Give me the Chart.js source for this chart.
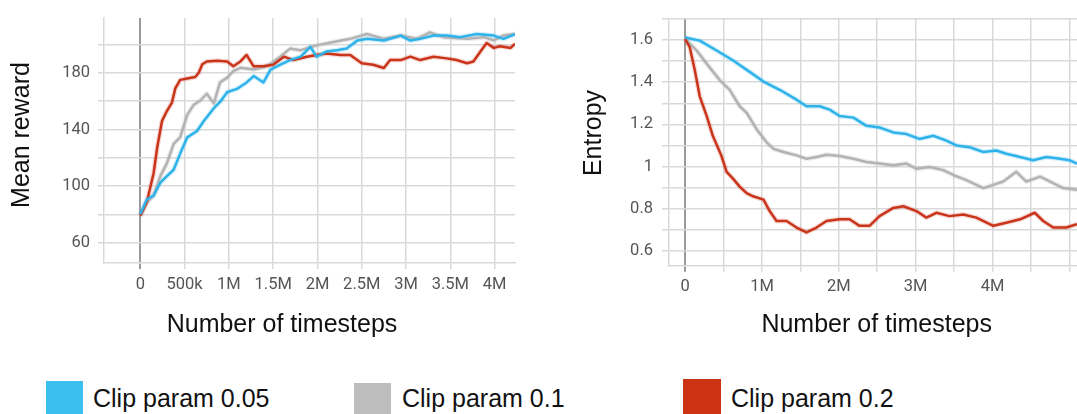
<!DOCTYPE html>
<html>
<head>
<meta charset="utf-8">
<title>Clip param comparison</title>
<script src="https://cdn.jsdelivr.net/npm/chart.js@4"></script>
<style>
    html, body { margin: 0; padding: 0; background: #fff; }
    body { width: 1077px; height: 414px; position: relative; overflow: hidden; }
    .plot { position: absolute; top: 0; height: 345px; }
    #reward_wrap { left: 0; width: 520px; }
    #entropy_wrap { left: 560px; width: 517px; }
    .swatch { position: absolute; width: 37px; height: 40px; }
    .key { position: absolute; top: 386px; font: 25px "Liberation Sans", Arial, sans-serif; line-height: 25px; color: #111; white-space: nowrap; }
</style>
</head>
<body>
<div class="plot" id="reward_wrap"><canvas id="reward_chart"></canvas></div>
<div class="plot" id="entropy_wrap"><canvas id="entropy_chart"></canvas></div>

<div class="swatch" style="left:46px; top:381px; background:#3bbfee;"></div>
<div class="key" style="left:93px;">Clip param 0.05</div>
<div class="swatch" style="left:354px; top:383px; background:#bdbdbd;"></div>
<div class="key" style="left:402px;">Clip param 0.1</div>
<div class="swatch" style="left:683px; top:379px; width:38px; background:#cc3312;"></div>
<div class="key" style="left:731px;">Clip param 0.2</div>

<script>
// x values are in millions of timesteps
const rewardSteps005 = [0, 0.075, 0.15, 0.226, 0.3, 0.376, 0.45, 0.53, 0.64, 0.715, 0.83, 0.9, 0.98, 1.09, 1.2, 1.28, 1.39, 1.47, 1.58, 1.69, 1.81, 1.92, 1.99, 2.1, 2.22, 2.33, 2.45, 2.56, 2.75, 2.94, 3.05, 3.16, 3.31, 3.46, 3.61, 3.8, 3.99, 4.1, 4.23];
const reward005 = [80, 90.6, 93.3, 102.4, 107, 111.5, 122.9, 134.4, 138.9, 145.8, 155, 159.4, 166.3, 168.6, 173.2, 177.7, 173.2, 182.3, 185.7, 189, 191.4, 198.3, 191.4, 195, 196, 197.1, 202.8, 204, 202.8, 206.3, 202.8, 204, 206.3, 206.3, 205.2, 207.4, 206.3, 204, 207.4];

const rewardSteps01 = [0, 0.075, 0.15, 0.226, 0.3, 0.376, 0.45, 0.53, 0.6, 0.68, 0.75, 0.83, 0.9, 0.98, 1.05, 1.13, 1.28, 1.43, 1.58, 1.69, 1.81, 1.99, 2.18, 2.37, 2.56, 2.75, 2.94, 3.12, 3.27, 3.42, 3.69, 3.88, 3.99, 4.1, 4.23];
const reward01 = [79, 88.7, 93.3, 107, 116, 129.8, 134.4, 150.3, 157.2, 160.6, 165.2, 158.4, 173.2, 176.6, 181.2, 183.5, 182.3, 184.6, 191.4, 197.1, 196, 199.4, 201.7, 204, 207.4, 204, 206.3, 204, 208.6, 205.2, 204, 205.2, 203, 206.3, 207.4];

const rewardSteps02 = [0, 0.075, 0.15, 0.19, 0.245, 0.3, 0.357, 0.395, 0.45, 0.53, 0.62, 0.66, 0.7, 0.75, 0.87, 0.98, 1.05, 1.13, 1.2, 1.28, 1.39, 1.5, 1.62, 1.73, 1.88, 1.99, 2.1, 2.26, 2.37, 2.5, 2.63, 2.75, 2.82, 2.94, 3.05, 3.16, 3.31, 3.46, 3.57, 3.69, 3.76, 3.84, 3.91, 3.99, 4.06, 4.18, 4.23];
const reward02 = [79, 89, 109, 127, 146, 153, 159, 169, 175, 176, 177, 180, 186, 188, 188.5, 188, 184.6, 188, 192.6, 184.6, 184.6, 185.7, 191.4, 189, 191.4, 192.6, 193.7, 192.6, 192.6, 186.8, 185.7, 183.4, 189, 189, 191.4, 189, 191.4, 190.2, 189, 186.8, 188, 195, 201, 197.6, 198.8, 197.6, 200.5];

const entropySteps005 = [0, 0.19, 0.41, 0.62, 0.84, 1.02, 1.23, 1.45, 1.58, 1.75, 1.88, 2.01, 2.19, 2.36, 2.53, 2.71, 2.88, 3.05, 3.23, 3.4, 3.53, 3.7, 3.88, 4.05, 4.18, 4.36, 4.53, 4.7, 4.88, 5.0, 5.1];
const entropy005 = [1.612, 1.597, 1.55, 1.504, 1.449, 1.403, 1.364, 1.317, 1.286, 1.286, 1.27, 1.24, 1.232, 1.193, 1.185, 1.162, 1.154, 1.131, 1.146, 1.123, 1.1, 1.092, 1.069, 1.076, 1.061, 1.045, 1.03, 1.045, 1.037, 1.03, 1.014];

const entropySteps01 = [0, 0.15, 0.28, 0.45, 0.58, 0.71, 0.8, 0.93, 1.06, 1.15, 1.28, 1.45, 1.58, 1.71, 1.84, 2.01, 2.19, 2.36, 2.53, 2.71, 2.88, 3.01, 3.18, 3.36, 3.49, 3.66, 3.88, 4.01, 4.14, 4.31, 4.44, 4.62, 4.75, 4.92, 5.1];
const entropy01 = [1.605, 1.55, 1.488, 1.41, 1.364, 1.286, 1.255, 1.177, 1.115, 1.084, 1.069, 1.053, 1.037, 1.045, 1.056, 1.05, 1.037, 1.022, 1.014, 1.006, 1.014, 0.99, 0.998, 0.983, 0.96, 0.936, 0.898, 0.913, 0.929, 0.975, 0.929, 0.952, 0.929, 0.898, 0.89];

const entropySteps02 = [0, 0.06, 0.126, 0.19, 0.28, 0.36, 0.47, 0.54, 0.62, 0.71, 0.8, 0.885, 1.02, 1.1, 1.19, 1.32, 1.45, 1.58, 1.71, 1.84, 2.01, 2.14, 2.27, 2.4, 2.53, 2.71, 2.84, 3.01, 3.14, 3.27, 3.44, 3.62, 3.79, 4.01, 4.18, 4.36, 4.55, 4.66, 4.79, 4.96, 5.1];
const entropy02 = [1.605, 1.566, 1.457, 1.333, 1.24, 1.146, 1.053, 0.975, 0.944, 0.905, 0.874, 0.859, 0.843, 0.789, 0.742, 0.742, 0.711, 0.688, 0.711, 0.742, 0.75, 0.75, 0.719, 0.719, 0.765, 0.804, 0.812, 0.789, 0.758, 0.781, 0.765, 0.773, 0.758, 0.719, 0.734, 0.75, 0.781, 0.742, 0.711, 0.711, 0.727];

// grid / tick positions
const rewardTicksX = [0, 0.5, 1, 1.5, 2, 2.5, 3, 3.5, 4];
const rewardTicksY = [60, 80, 100, 120, 140, 160, 180, 200];
const entropyTicksX = [0, 0.5, 1, 1.5, 2, 2.5, 3, 3.5, 4, 4.5, 5];
const entropyTicksY = [0.6, 0.7, 0.8, 0.9, 1, 1.1, 1.2, 1.3, 1.4, 1.5, 1.6, 1.7];

const clipLabels = ["Clip param 0.05", "Clip param 0.1", "Clip param 0.2"];
const lineColors = ["#2db3ea", "#b3b3b3", "#c9341a"];
const haloColors = ["rgba(45,179,234,0.2)", "rgba(179,179,179,0.25)", "rgba(201,52,26,0.18)"];
const lineOrder = [0, 2, 1];

const GRID = "#d9d9d9";
const ZERO = "#9a9a9a";
const TICK_FONT = { family: "Roboto", size: 16.5 };

Chart.defaults.font.family = "Roboto";
Chart.defaults.animation = false;

// axis titles are placed by hand so they sit where the original has them
const axisTitles = {
    id: "axisTitles",
    afterDraw(chart, args, opts) {
        const ctx = chart.ctx;
        ctx.save();
        ctx.fillStyle = "#111";
        ctx.font = '25px "Liberation Sans", Arial, sans-serif';
        ctx.textBaseline = "alphabetic";
        ctx.textAlign = "center";
        ctx.fillText(opts.xText, opts.xCenter, opts.xBaseline);
        ctx.translate(opts.yBaseline, opts.yCenter);
        ctx.rotate(-Math.PI / 2);
        ctx.fillText(opts.yText, 0, 0);
        ctx.restore();
    }
};

function pts(xs, ys) {
    return xs.map((x, i) => ({ x, y: ys[i] }));
}

function buildDatasets(series) {
    const sets = [];
    series.forEach(([xs, ys], i) => {
        sets.push({
            label: clipLabels[i],
            data: pts(xs, ys),
            borderColor: lineColors[i],
            borderWidth: 2.5,
            pointRadius: 0,
            tension: 0,
            borderJoinStyle: "round",
            order: lineOrder[i]
        });
        sets.push({
            label: clipLabels[i] + " raw",
            data: pts(xs, ys),
            borderColor: haloColors[i],
            borderWidth: 5,
            pointRadius: 0,
            tension: 0,
            borderJoinStyle: "round",
            order: 10 + lineOrder[i]
        });
    });
    return sets;
}

function isZero(c) {
    return c.tick && Math.abs(c.tick.value) < 1e-9;
}

function makeChart(id, cfg) {
    return new Chart(document.getElementById(id), {
        type: "line",
        data: { datasets: buildDatasets(cfg.series) },
        options: {
            responsive: true,
            maintainAspectRatio: false,
            layout: { padding: cfg.padding },
            plugins: {
                legend: { display: false },
                tooltip: { enabled: false },
                axisTitles: cfg.titles
            },
            scales: {
                x: {
                    type: "linear",
                    min: cfg.xMin,
                    max: cfg.xMax,
                    afterBuildTicks: (s) => { s.ticks = cfg.xTicks.map((v) => ({ value: v })); },
                    afterFit: (s) => { s.height = cfg.xHeight; },
                    grid: {
                        color: (c) => isZero(c) ? ZERO : GRID,
                        lineWidth: (c) => isZero(c) ? 2 : 1.5,
                        tickLength: 6
                    },
                    border: { display: true, color: GRID, width: 1.5 },
                    ticks: {
                        autoSkip: false,
                        maxRotation: 0,
                        padding: cfg.xPad,
                        color: "#555",
                        font: TICK_FONT,
                        callback: cfg.xLabel
                    }
                },
                y: {
                    min: cfg.yMin,
                    max: cfg.yMax,
                    afterBuildTicks: (s) => { s.ticks = cfg.yTicks.map((v) => ({ value: v })); },
                    afterFit: (s) => { s.width = cfg.yWidth; },
                    grid: { color: GRID, lineWidth: 1.5, tickLength: cfg.yTick },
                    border: { display: true, color: GRID, width: 1.5 },
                    ticks: {
                        autoSkip: false,
                        padding: cfg.yPad,
                        color: "#555",
                        font: TICK_FONT,
                        callback: cfg.yLabel
                    }
                }
            }
        },
        plugins: [axisTitles]
    });
}

makeChart("reward_chart", {
    series: [[rewardSteps005, reward005], [rewardSteps01, reward01], [rewardSteps02, reward02]],
    padding: { top: 10, right: 5, left: 0, bottom: 0 },
    xMin: -0.41, xMax: 4.23, xTicks: rewardTicksX, xHeight: 82, xPad: 6,
    xLabel: (v) => {
        if (Math.abs(v) < 1e-9) return "0";
        return v < 1 ? Math.round(v * 1000) + "k" : v + "M";
    },
    yMin: 45.6, yMax: 218.8, yTicks: rewardTicksY, yWidth: 104, yTick: 6, yPad: 8,
    yLabel: (v) => (Math.round(v - 20) % 40 === 0 && v <= 180) ? String(v) : "",
    titles: { xText: "Number of timesteps", xCenter: 282, xBaseline: 332, yText: "Mean reward", yBaseline: 28.5, yCenter: 135 }
});

makeChart("entropy_chart", {
    series: [[entropySteps005, entropy005], [entropySteps01, entropy01], [entropySteps02, entropy02]],
    padding: { top: 14.5, right: 0, left: 0, bottom: 0 },
    xMin: -0.21, xMax: 5.1, xTicks: entropyTicksX, xHeight: 79.3, xPad: 5,
    xLabel: (v) => {
        if (Math.abs(v - Math.round(v)) > 1e-9 || v > 4.5) return "";
        return v === 0 ? "0" : v + "M";
    },
    yMin: 0.53, yMax: 1.7, yTicks: entropyTicksY, yWidth: 109, yTick: 7, yPad: 9,
    yLabel: (v) => {
        const r = Math.round(v * 10);
        if (r % 2 !== 0 || r > 16) return "";
        return r === 10 ? "1" : (r / 10).toString();
    },
    titles: { xText: "Number of timesteps", xCenter: 316.7, xBaseline: 332, yText: "Entropy", yBaseline: 41, yCenter: 133 }
});
</script>
</body>
</html>
